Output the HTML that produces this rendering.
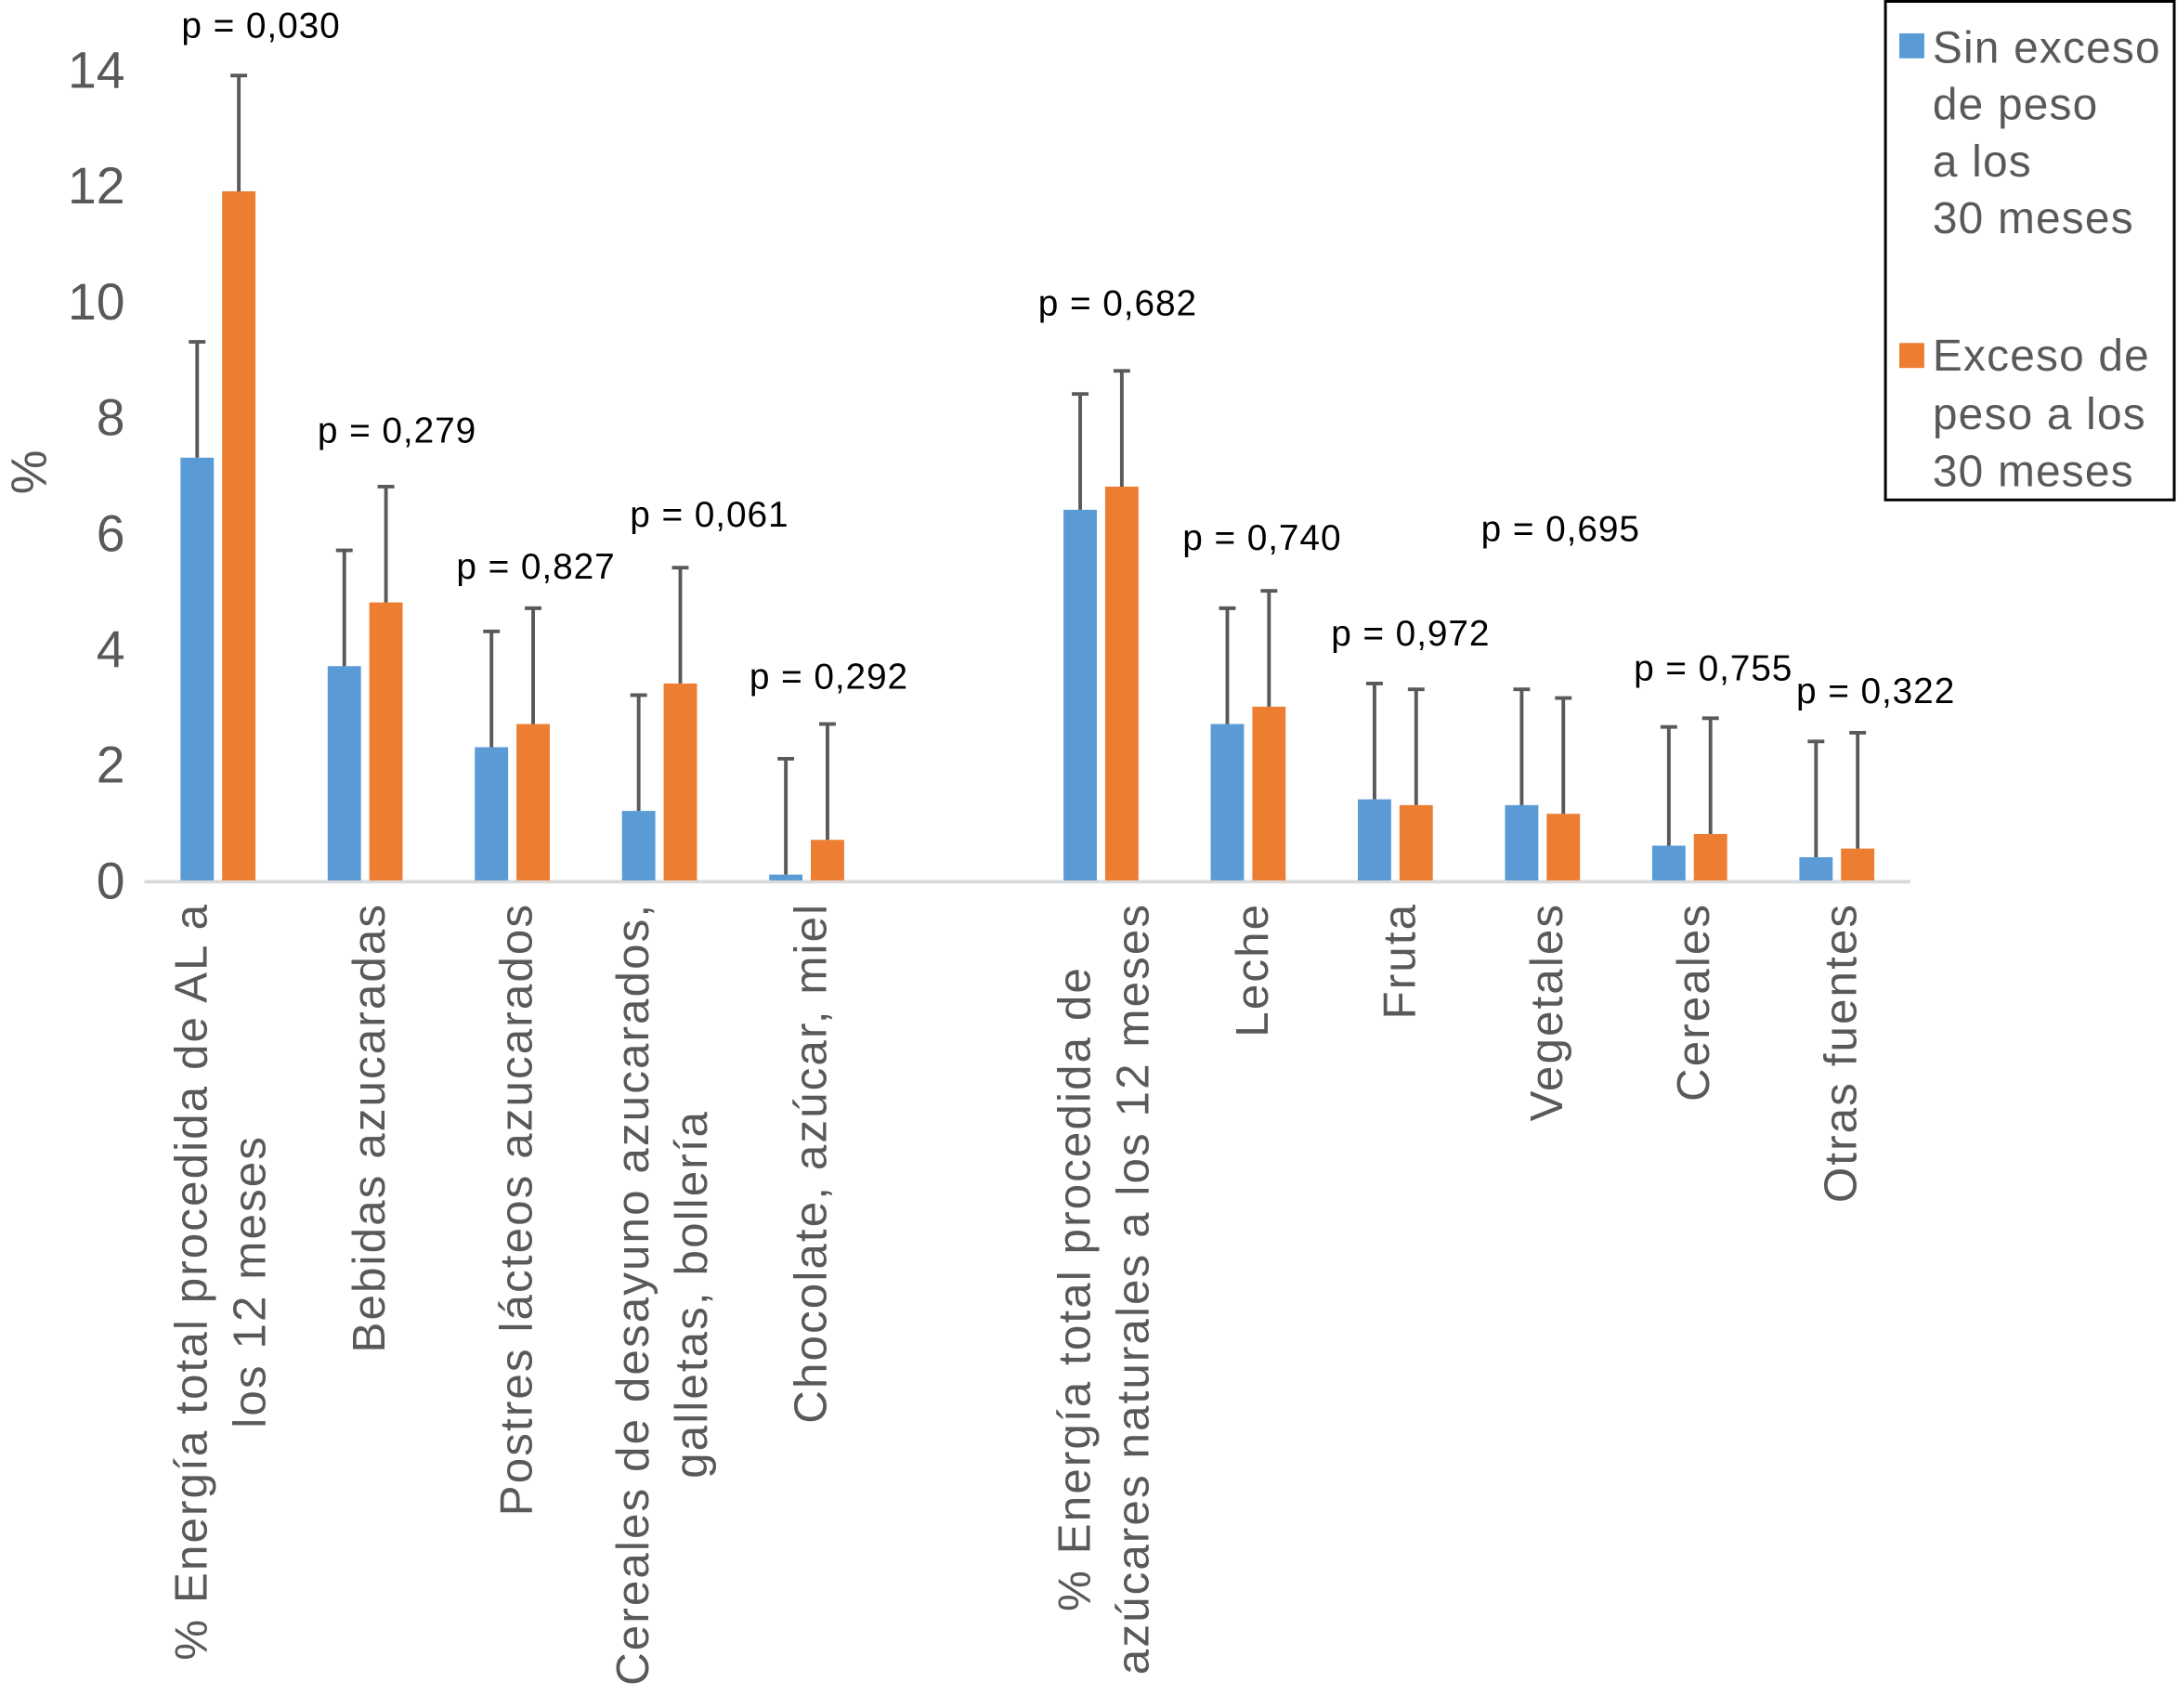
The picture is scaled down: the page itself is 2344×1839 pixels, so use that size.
<!DOCTYPE html>
<html><head><meta charset="utf-8"><style>
html,body{margin:0;padding:0;background:#fff;}
svg{display:block;font-family:"Liberation Sans",Arial,sans-serif;}
</style></head><body>
<svg id="chart" width="2344" height="1839" viewBox="0 0 1568 1230" preserveAspectRatio="none" xmlns="http://www.w3.org/2000/svg">
<g id="grid"></g>
<g id="bars"></g>
<g id="labels"></g>
<text x="0" y="0" transform="translate(33,340) rotate(-90)" text-anchor="middle" font-size="36" fill="#595959">%</text>
<g>
<rect x="1358" y="1" width="208" height="359" fill="#fff" stroke="#000" stroke-width="2"/>
<rect x="1368" y="24" width="18" height="18" fill="#5b9bd5"/>
<text font-size="32" letter-spacing="0.8" fill="#595959"><tspan x="1392" y="45">Sin exceso</tspan><tspan x="1392" y="86">de peso</tspan><tspan x="1392" y="127">a los</tspan><tspan x="1392" y="168">30 meses</tspan></text>
<rect x="1368" y="247" width="18" height="18" fill="#ed7d31"/>
<text font-size="32" letter-spacing="0.8" fill="#595959"><tspan x="1392" y="267">Exceso de</tspan><tspan x="1392" y="309">peso a los</tspan><tspan x="1392" y="350">30 meses</tspan></text>
</g>
</svg>
<script>
const categories = [
 ["% Energía total procedida de AL a","los 12 meses"],
 ["Bebidas azucaradas"],
 ["Postres lácteos azucarados"],
 ["Cereales de desayuno azucarados,","galletas, bollería"],
 ["Chocolate, azúcar, miel"],
 null,
 ["% Energía total procedida de","azúcares naturales a los 12 meses"],
 ["Leche"],["Fruta"],["Vegetales"],["Cereales"],["Otras fuentes"]
];
const blueValues = [7.3,3.7,2.3,1.2,0.1,null,6.4,2.7,1.4,1.3,0.6,0.4];
const orangeValues = [11.9,4.8,2.7,3.4,0.7,null,6.8,3.0,1.3,1.15,0.8,0.55];
const blueErrTop = [9.3,5.7,4.3,3.2,2.1,null,8.4,4.7,3.4,3.3,2.65,2.4];
const orangeErrTop = [13.9,6.8,4.7,5.4,2.7,null,8.8,5.0,3.3,3.15,2.8,2.55];
const pLabels = ["p = 0,030","p = 0,279","p = 0,827","p = 0,061","p = 0,292",null,"p = 0,682","p = 0,740","p = 0,972","p = 0,695","p = 0,755","p = 0,322"];
const pLabelValues = [14.75,7.75,5.4,6.3,3.5,null,9.95,5.9,4.25,6.05,3.65,3.25];
const pOffsets = [31,23,17,36,16,0,12,10,11,13,17,28];
const yTicks = [0,2,4,6,8,10,12,14];

const NS="http://www.w3.org/2000/svg";
const x0=104, slot=106, yBase=634, yPer=41.7;
const yS=v=>yBase-v*yPer;
const xC=i=>x0+slot*i+slot/2;
function mk(tag,attrs,parent){const e=document.createElementNS(NS,tag);for(const k in attrs)e.setAttribute(k,attrs[k]);parent.appendChild(e);return e;}
const grid=document.getElementById('grid'),bars=document.getElementById('bars'),labels=document.getElementById('labels');

yTicks.forEach(t=>{
 const e=mk('text',{x:90,y:yS(t)+13,'text-anchor':'end','font-size':37,fill:'#595959'},grid);
 
 
 e.textContent=t;
});
const ax=mk('line',{x1:x0,x2:x0+slot*categories.length,y1:yBase+1,y2:yBase+1,stroke:'#d9d9d9','stroke-width':2.5},grid);



function bar(cx,v,top,color,name){
 const w=24;
 const r=mk('rect',{x:cx-w/2,y:yS(v),width:w,height:yBase-yS(v),fill:color},bars);
 
 
 const l=mk('line',{x1:cx,x2:cx,y1:yS(v),y2:yS(top),stroke:'#595959','stroke-width':2.6},bars);
 
 
 const c=mk('line',{x1:cx-6,x2:cx+6,y1:yS(top),y2:yS(top),stroke:'#595959','stroke-width':2.6},bars);
 
 
}
categories.forEach((cat,i)=>{
 if(!cat)return;
 const c=xC(i);
 bar(c-15,blueValues[i],blueErrTop[i],'#5b9bd5','bar-sin-exceso');
 bar(c+15,orangeValues[i],orangeErrTop[i],'#ed7d31','bar-exceso');
 const p=mk('text',{x:c+pOffsets[i],y:yS(pLabelValues[i])+8,'text-anchor':'middle','font-size':26,'letter-spacing':0.6,fill:'#000'},labels);
 
 
 p.textContent=pLabels[i];
 const n=cat.length;
 const els=[];
 cat.forEach((line,j)=>{
  const bx = n===1 ? c+14 : c-8+j*42;
  const t=mk('text',{x:0,y:0,transform:`translate(${bx},650) rotate(-90)`,'text-anchor':'end','font-size':33,'letter-spacing':1.4,fill:'#595959'},labels);
  
  
  t.textContent=line;
  els.push([t,bx]);
 });
 if(n>1){
  const maxL=Math.max(...els.map(e=>e[0].getComputedTextLength()));
  els.forEach(([t,bx])=>{
   t.setAttribute('text-anchor','middle');
   t.setAttribute('transform',`translate(${bx},${650+maxL/2}) rotate(-90)`);
  });
 }
});
</script>
</body></html>
